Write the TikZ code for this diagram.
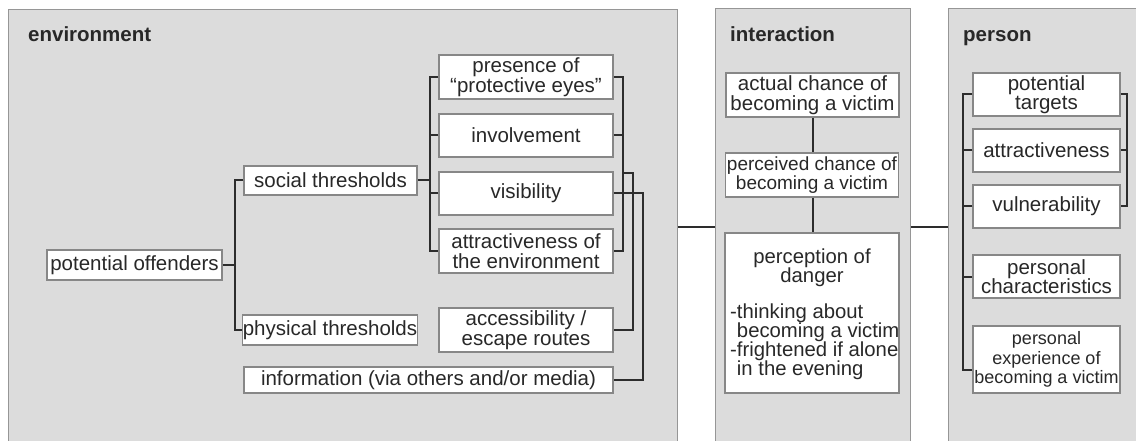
\documentclass[tikz,border=0pt]{standalone}
\usepackage{fontspec}
\setmainfont{Liberation Sans}
\usetikzlibrary{calc}
\definecolor{panelfill}{RGB}{220,220,220}
\definecolor{panelline}{RGB}{150,150,150}
\definecolor{boxline}{RGB}{135,135,135}
\definecolor{ink}{RGB}{40,40,40}
\definecolor{wirec}{RGB}{45,45,45}
\begin{document}
\begin{tikzpicture}[x=1pt,y=-1pt,
  panel/.style={draw=panelline, fill=panelfill, line width=1pt, rectangle, inner sep=0pt, anchor=north west},
  box/.style={draw=boxline, fill=white, line width=1.1pt, inner sep=0pt, align=center, text=ink, font=\fontsize{20.5}{19.5}\selectfont},
  txt/.style={inner sep=0pt, text=ink, font=\fontsize{20.3}{19}\selectfont},
  wire/.style={draw=wirec, line width=2pt},
  title/.style={font=\fontsize{20.5}{20}\selectfont\bfseries, text=ink, anchor=base west, inner sep=0pt},
]
\useasboundingbox (0,0) rectangle (1136,441);
\clip (0,0) rectangle (1136,441);
% panels
\node[panel, minimum width=669pt, minimum height=470pt] (envp) at (8,9) {};
\node[panel, minimum width=195pt, minimum height=470pt] (intp) at (715,8) {};
\node[panel, minimum width=200pt, minimum height=470pt] (perp) at (948,8) {};
\node[title] (tenv) at (28,42) {environment};
\node[title] (tint) at (730,42) {interaction};
\node[title] (tper) at (963,42) {person};
% connectors between panels
\coordinate (c1) at (0,227);
\draw[wire] (c1 -| envp.east) -- (c1 -| intp.west);
\draw[wire] (c1 -| intp.east) -- (c1 -| perp.west);
% environment boxes
\node[box, minimum width=175pt, minimum height=30pt] (off) at (134.5,265) {potential offenders};
\node[box, minimum width=173pt, minimum height=29pt] (soc) at (330.5,180.5) {social thresholds};
\node[box, minimum width=172pt, minimum height=30pt] (phy) at (330,330) {physical thresholds};
\node[box, minimum width=369pt, minimum height=26pt] (info) at (428.5,380) {information (via others and/or media)};
\node[box, minimum width=174pt, minimum height=44pt] (pres) at (526,77) {presence of\\“protective eyes”};
\node[box, minimum width=174pt, minimum height=43pt] (inv) at (526,135.5) {involvement};
\node[box, minimum width=174pt, minimum height=43pt] (vis) at (526,193.5) {visibility};
\node[box, minimum width=174pt, minimum height=44pt] (attr) at (526,251) {attractiveness of\\the environment};
\node[box, minimum width=174pt, minimum height=44pt] (acc) at (526,330) {accessibility /\\escape routes};
% environment wires
\coordinate (b1) at (235,0);
\coordinate (b2) at (430,0);
\coordinate (b3) at (623,0);
\coordinate (bA) at (633,0);
\coordinate (bB) at (643,0);
\draw[wire] (off.east) -- (off.east -| b1);
\draw[wire] (soc.west) -- (soc.west -| b1) -- (phy.west -| b1) -- (phy.west);
\draw[wire] (soc.east) -- (soc.east -| b2);
\draw[wire] (pres.west) -- (pres.west -| b2) -- (attr.west -| b2) -- (attr.west);
\draw[wire] (inv.west) -- (inv.west -| b2);
\draw[wire] (vis.west) -- (vis.west -| b2);
\draw[wire] (pres.east) -- (pres.east -| b3) -- (attr.east -| b3) -- (attr.east);
\draw[wire] (inv.east) -- (inv.east -| b3);
\draw[wire] (vis.east) -- (vis.east -| b3);
\coordinate (a1) at (623,173);
\draw[wire] (a1) -| (bA |- acc.east) -- (acc.east);
\draw[wire] (vis.east -| b3) -| (bB |- info.east) -- (info.east);
% interaction boxes
\node[box, minimum width=173pt, minimum height=44pt] (act) at (812.5,95) {actual chance of\\becoming a victim};
\node[box, minimum width=173pt, minimum height=44pt, font=\fontsize{19}{19.5}\selectfont] (per) at (812,175) {perceived chance of\\becoming a victim};
\node[box, minimum width=174pt, minimum height=160pt] (dan) at (812,313) {};
\node[txt, align=center, anchor=north] (dant) at (812,249) {perception of\\danger};
\node[txt, align=left, anchor=north west] (danl) at (730,304) {-thinking about\\\phantom{-}becoming a victim\\-frightened if alone\\\phantom{-}in the evening};
\draw[wire] (act.south -| 813,0) -- (per.north -| 813,0);
\draw[wire] (per.south -| 813,0) -- (dan.north -| 813,0);
% person boxes
\node[box, minimum width=147pt, minimum height=43pt] (tgt) at (1046.5,94.5) {potential\\targets};
\node[box, minimum width=147pt, minimum height=43pt] (att2) at (1046.5,150.5) {attractiveness};
\node[box, minimum width=147pt, minimum height=43pt] (vul) at (1046.5,206.5) {vulnerability};
\node[box, minimum width=147pt, minimum height=43pt] (pch) at (1046.5,276.5) {personal\\characteristics};
\node[box, minimum width=147pt, minimum height=67pt, font=\fontsize{18}{19.5}\selectfont] (pex) at (1046.5,359.5) {personal\\experience of\\becoming a victim};
\coordinate (b4) at (963,0);
\coordinate (b5) at (1127,0);
\coordinate (pexw) at ($(pex.west)+(0,10)$);
\draw[wire] (tgt.west) -- (tgt.west -| b4) -- (pexw -| b4) -- (pexw);
\draw[wire] (att2.west) -- (att2.west -| b4);
\draw[wire] (vul.west) -- (vul.west -| b4);
\draw[wire] (pch.west) -- (pch.west -| b4);
\draw[wire] (tgt.east) -- (tgt.east -| b5) -- (vul.east -| b5) -- (vul.east);
\draw[wire] (att2.east) -- (att2.east -| b5);
\end{tikzpicture}
\end{document}
